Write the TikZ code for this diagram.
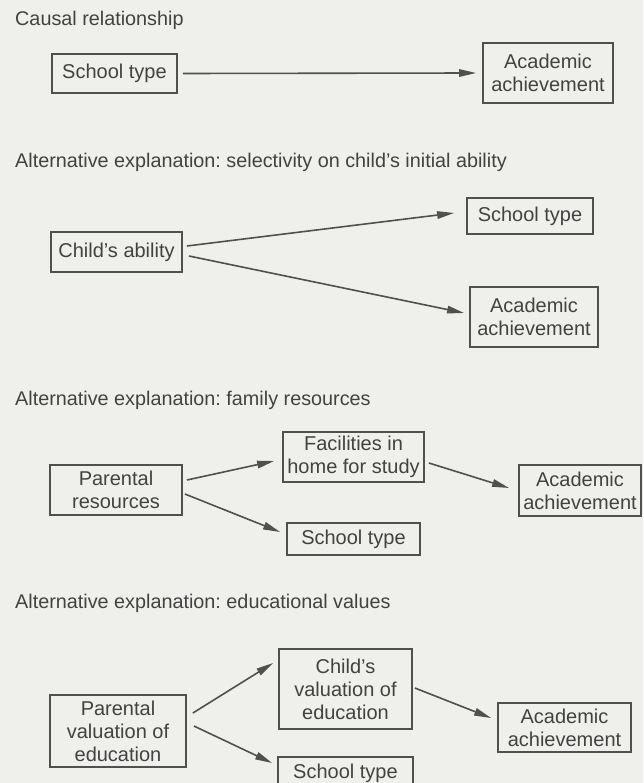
\documentclass[tikz,border=0pt]{standalone}
\usepackage{fontspec}
\setmainfont{Liberation Sans}
\usetikzlibrary{arrows.meta}
\definecolor{paper}{RGB}{239,239,236}
\definecolor{ink}{RGB}{66,66,66}
\definecolor{rule}{RGB}{80,80,80}
\frenchspacing
\begin{document}
\begin{tikzpicture}[x=1pt,y=-1pt,
  diagbox/.style={draw=rule, line width=1.8pt, align=center, inner sep=0pt,
    text=ink, font=\fontsize{20}{23}\selectfont},
  heading/.style={anchor=base west, inner sep=0pt, text=ink,
    font=\fontsize{19.8}{22}\selectfont},
  link/.style={draw=rule, line width=1.6pt, -{Triangle[length=17pt,width=7.5pt]}}]
\fill[paper] (0,0) rectangle (643,783);
\useasboundingbox (0,0) rectangle (643,783);

% Causal relationship
\node[heading] (t1) at (15,26) {Causal relationship};
\node[diagbox, minimum width=125pt, minimum height=39pt] (st1) at (114.5,73.5) {School type};
\node[diagbox, minimum width=130pt, minimum height=60pt] (aa1) at (548,73) {Academic\\achievement};
\draw[link] ([xshift=5pt]st1.east) -- ([xshift=-6pt]aa1.west);

% Selectivity on initial ability
\node[heading] (t2) at (15,168) {Alternative explanation: selectivity on child's initial ability};
\node[diagbox, minimum width=126pt, minimum height=36pt] (st2) at (530,216) {School type};
\node[diagbox, minimum width=131pt, minimum height=40pt] (ca2) at (116.5,252) {Child's ability};
\node[diagbox, minimum width=128pt, minimum height=60pt] (aa2) at (534,317) {Academic\\achievement};
\draw[link] ([xshift=4pt,yshift=6pt]ca2.east) -- ([xshift=-12pt,yshift=3pt]st2.west);
\draw[link] ([xshift=6pt,yshift=-4pt]ca2.east) -- ([xshift=-5pt,yshift=4pt]aa2.west);

% Family resources
\node[heading] (t3) at (15,405) {Alternative explanation: family resources};
\node[diagbox, minimum width=141pt, minimum height=50pt] (fac3) at (353.5,457) {Facilities in\\home for study};
\node[diagbox, minimum width=132pt, minimum height=50pt] (pr3) at (116,490) {Parental\\resources};
\node[diagbox, minimum width=122pt, minimum height=51pt] (aa3) at (580,490.5) {Academic\\achievement};
\node[diagbox, minimum width=133pt, minimum height=32pt] (st3) at (353.5,539) {School type};
\draw[link] ([xshift=4pt,yshift=10pt]pr3.east) -- ([xshift=-8pt,yshift=-4pt]fac3.west);
\draw[link] ([xshift=2pt,yshift=-4pt]pr3.east) -- ([xshift=-6pt,yshift=7pt]st3.west);
\draw[link] ([xshift=4pt,yshift=-6pt]fac3.east) -- ([xshift=-9pt,yshift=2.5pt]aa3.west);

% Educational values
\node[heading] (t4) at (15,608) {Alternative explanation: educational values};
\node[diagbox, minimum width=133pt, minimum height=80pt] (cv4) at (345.5,689) {Child's\\valuation of\\education};
\node[diagbox, minimum width=136pt, minimum height=72pt] (pv4) at (118,731) {Parental\\valuation of\\education};
\node[diagbox, minimum width=133pt, minimum height=49pt] (aa4) at (564.5,727.5) {Academic\\achievement};
\node[diagbox, minimum width=135pt, minimum height=32pt] (st4) at (345.5,773) {School type};
\draw[link] ([xshift=6pt,yshift=18pt]pv4.east) -- ([xshift=-5pt,yshift=26pt]cv4.west);
\draw[link] ([xshift=7pt,yshift=5pt]pv4.east) -- ([xshift=-5pt,yshift=10pt]st4.west);
\draw[link] ([xshift=2pt,yshift=1pt]cv4.east) -- ([xshift=-6pt,yshift=9.5pt]aa4.west);
\end{tikzpicture}
\end{document}
